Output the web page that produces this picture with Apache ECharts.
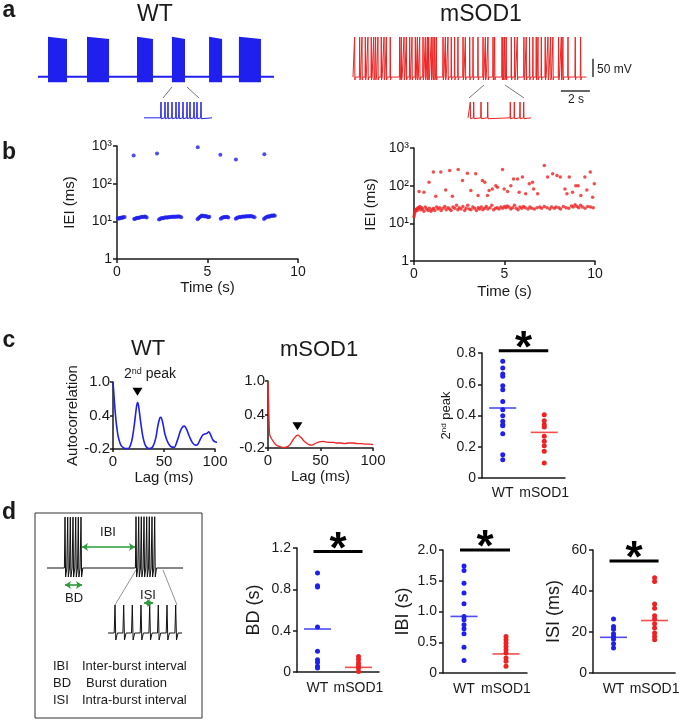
<!DOCTYPE html>
<html lang="en">
<head>
<meta charset="UTF-8">
<title>WT vs mSOD1 firing patterns</title>
<script src="https://cdn.jsdelivr.net/npm/echarts@6.0.0/dist/echarts.min.js"></script>
<style>
  html, body { margin: 0; padding: 0; background: #fff; }
  #main { width: 682px; height: 720px; }
</style>
</head>
<body>
<div id="main"></div>
<script>
// ---- data ----
// a: voltage traces (time in s)
var wtBursts = [[0.69, 2.0], [3.38, 4.9], [6.83, 7.93], [9.24, 10.14], [11.8, 12.7], [13.86, 15.38]];
var wtBurstTop = [48, 42];
var wtInsetSpikes = [17, 21, 24, 28, 32, 35, 39, 43, 46, 50, 53, 57];
var msSpikes = [0.11, 0.46, 0.62, 0.85, 1.03, 1.26, 1.43, 1.56, 1.72, 1.95, 2.14, 2.30, 2.57, 3.22, 3.33, 3.52,
  3.68, 3.91, 4.07, 4.30, 4.44, 4.60, 4.83, 4.99, 5.13, 5.22, 5.40, 5.52, 5.63, 5.75, 6.21, 6.37, 6.55, 6.78,
  7.01, 7.24, 7.59, 7.75, 8.05, 8.28, 8.62, 8.97, 9.13, 9.31, 9.66, 9.77, 10.28, 10.34, 10.46, 10.57, 10.92,
  11.15, 11.33, 11.79, 11.95, 12.18, 12.41, 12.64, 12.76, 12.99, 13.26, 13.45, 13.63, 13.79, 14.18, 14.37,
  14.48, 14.83, 15.33, 15.70];
var msInsetSpikes = [2.3, 5.7, 13, 19.7, 42.3, 46.3, 52, 55.7];

// b: inter-event intervals (time s, IEI ms)
var wtIEIburst = [
  [0.05, 12.0], [0.1, 11.8], [0.15, 12.2], [0.2, 12.5], [0.25, 12.3], [0.3, 12.8], [0.35, 12.6], [0.42, 13.0],
  [0.95, 11.5], [1.0, 11.8], [1.06, 12.0], [1.12, 12.4], [1.18, 12.2], [1.25, 12.7], [1.32, 12.9], [1.38, 13.2],
  [1.45, 13.0], [1.52, 13.5], [1.58, 13.3], [1.64, 12.6],
  [2.32, 11.2], [2.38, 11.6], [2.44, 12.0], [2.5, 12.3], [2.57, 12.1], [2.64, 12.6], [2.71, 12.8], [2.78, 12.5],
  [2.85, 13.0], [2.92, 12.8], [2.99, 13.2], [3.06, 13.0], [3.13, 13.4], [3.2, 13.1], [3.27, 13.5], [3.34, 13.3],
  [3.41, 13.6], [3.48, 13.2], [3.55, 12.9],
  [4.45, 11.3], [4.5, 12.0], [4.56, 12.8], [4.62, 13.5], [4.68, 14.2], [4.74, 13.8], [4.8, 14.0], [4.86, 13.4],
  [4.92, 13.9], [4.98, 13.2], [5.04, 12.9], [5.1, 13.3],
  [5.73, 11.8], [5.79, 12.2], [5.85, 12.6], [5.91, 13.0], [5.97, 12.8], [6.03, 13.3], [6.09, 13.1], [6.15, 12.7],
  [6.56, 11.8], [6.62, 12.3], [6.68, 12.7], [6.75, 13.0], [6.82, 12.8], [6.89, 13.3], [6.96, 13.5], [7.03, 13.2],
  [7.1, 13.6], [7.17, 13.4], [7.24, 13.8], [7.31, 13.5], [7.38, 13.9], [7.45, 13.6], [7.52, 13.2], [7.6, 12.8],
  [8.12, 11.5], [8.18, 12.2], [8.24, 12.8], [8.3, 13.2], [8.36, 13.6], [8.42, 13.3], [8.48, 13.8], [8.54, 14.2],
  [8.6, 13.9], [8.66, 14.4], [8.72, 14.0]
];
var wtIEIgap = [[0.92, 560], [2.21, 630], [4.46, 930], [5.71, 590], [6.57, 440], [8.14, 600]];
var msIEIshort = [
  [0.0, 15], [0.02, 17], [0.04, 19], [0.07, 21], [0.1, 23], [0.14, 24], [0.18, 22], [0.22, 26], [0.27, 25],
  [0.32, 28], [0.37, 23], [0.42, 26], [0.48, 24], [0.55, 21], [0.62, 27], [0.7, 24], [0.78, 22], [0.85, 25],
  [0.93, 21], [1.0, 23], [1.08, 25], [1.15, 22], [1.25, 27], [1.33, 24], [1.42, 26], [1.5, 22], [1.6, 25],
  [1.7, 28], [1.78, 23], [1.88, 26], [1.97, 24], [2.05, 22], [2.15, 27], [2.25, 25], [2.35, 30], [2.42, 23],
  [2.5, 26], [2.6, 24], [2.7, 28], [2.8, 22], [2.88, 25], [2.97, 30], [3.05, 24], [3.15, 23], [3.25, 27],
  [3.35, 25], [3.45, 22], [3.55, 26], [3.62, 24], [3.72, 27], [3.8, 23], [3.9, 25], [4.0, 28], [4.08, 24],
  [4.2, 26], [4.3, 30], [4.4, 23], [4.5, 25], [4.6, 26], [4.7, 24], [4.8, 27], [4.9, 25], [5.0, 28], [5.08, 26],
  [5.15, 29], [5.25, 27], [5.35, 24], [5.45, 26], [5.55, 30], [5.65, 25], [5.75, 23], [5.85, 27], [5.95, 25],
  [6.05, 28], [6.15, 26], [6.3, 24], [6.4, 27], [6.5, 25], [6.65, 24], [6.8, 26], [6.95, 27], [7.05, 25],
  [7.2, 28], [7.35, 26], [7.5, 24], [7.6, 27], [7.75, 25], [7.85, 27], [8.0, 26], [8.1, 24], [8.25, 28],
  [8.4, 26], [8.55, 25], [8.7, 29], [8.8, 27], [8.9, 31], [9.0, 28], [9.1, 26], [9.2, 30], [9.3, 27],
  [9.45, 25], [9.6, 28], [9.75, 27], [9.9, 26]
];
var msIEIlong = [
  [0.28, 70], [0.55, 67], [0.83, 124], [1.07, 230], [1.2, 52], [1.48, 230], [1.75, 77], [1.97, 253], [2.12, 52],
  [2.44, 270], [2.68, 138], [2.95, 215], [3.14, 74], [3.41, 207], [3.54, 55], [3.78, 138], [3.91, 124],
  [4.06, 55], [4.15, 74], [4.33, 82], [4.52, 100], [4.61, 91], [4.89, 270], [4.98, 82], [5.17, 70], [5.35, 100],
  [5.5, 150], [5.72, 150], [5.81, 67], [5.99, 170], [6.17, 61], [6.37, 112], [6.55, 124], [6.61, 82], [6.83, 61],
  [7.2, 345], [7.38, 170], [7.66, 207], [7.9, 187], [8.08, 170], [8.34, 82], [8.45, 61], [8.58, 170], [8.76, 67],
  [8.94, 100], [9.07, 100], [9.22, 55], [9.44, 170], [9.55, 77], [9.74, 230], [9.87, 49], [9.96, 112]
];

// c: autocorrelation (lag ms, r)
var wtAC = [[0, 1.0], [1, 0.75], [2, 0.5], [3, 0.3], [4, 0.15], [5, 0.03], [7, -0.1], [9, -0.16], [12, -0.19],
  [15, -0.19], [17, -0.14], [19, 0.0], [21, 0.25], [23, 0.55], [24, 0.63], [25, 0.58], [27, 0.3], [29, 0.05],
  [31, -0.1], [33, -0.17], [36, -0.19], [39, -0.16], [42, 0.0], [44, 0.22], [46, 0.36], [47, 0.37], [49, 0.25],
  [51, 0.06], [54, -0.09], [57, -0.16], [60, -0.17], [63, -0.05], [66, 0.12], [68, 0.19], [70, 0.21], [72, 0.16],
  [75, 0.02], [78, -0.09], [81, -0.13], [83, -0.12], [86, -0.01], [88, 0.05], [90, 0.07], [92, 0.08], [94, 0.11],
  [96, 0.04], [98, -0.04], [100, -0.07], [103, -0.08]];
var msAC = [[0, 1.0], [0.5, 0.65], [1, 0.3], [1.6, 0.04], [3, -0.02], [6, -0.11], [8, -0.15], [11, -0.17],
  [14, -0.19], [16, -0.19], [19, -0.17], [21, -0.14], [24, -0.05], [26, 0.0], [27, 0.02], [28, 0.03], [29, 0.03],
  [30, 0.01], [32, -0.02], [34, -0.07], [36.5, -0.11], [39, -0.14], [41, -0.15], [43, -0.14], [46, -0.11],
  [49, -0.09], [52, -0.08], [55, -0.09], [59, -0.1], [62, -0.1], [65, -0.11], [69, -0.11], [73, -0.12],
  [77, -0.11], [81, -0.11], [85, -0.12], [89, -0.12], [93, -0.13], [97, -0.13], [100, -0.14]];
var wtPeak2 = [24, 0.63];
var msPeak2 = [28, 0.03];

// group comparisons
var groups = ['WT', 'mSOD1'];
var peakWT = [0.747, 0.704, 0.666, 0.651, 0.591, 0.565, 0.49, 0.437, 0.399, 0.363, 0.341, 0.335, 0.284, 0.149, 0.117];
var peakMS = [0.405, 0.367, 0.341, 0.326, 0.267, 0.235, 0.207, 0.171, 0.096];
var peakMean = [0.448, 0.292];
var bdWT = [0.958, 0.835, 0.823, 0.435, 0.2, 0.119, 0.094, 0.055, 0.039];
var bdMS = [0.15, 0.12, 0.087, 0.061, 0.039, 0.006];
var bdMean = [0.416, 0.045];
var ibiWT = [1.74, 1.665, 1.46, 1.30, 1.124, 0.92, 0.865, 0.784, 0.72, 0.64, 0.42, 0.205];
var ibiMS = [0.595, 0.54, 0.486, 0.43, 0.378, 0.324, 0.243, 0.19, 0.108];
var ibiMean = [0.92, 0.31];
var isiWT = [26.3, 22.7, 21.4, 19.1, 17.8, 16.5, 14.3, 12.2];
var isiMS = [46.5, 44.6, 33.6, 31.6, 27.9, 26.3, 24, 21.9, 19.5, 17.8, 16.2];
var isiMean = [17.4, 25.6];

// d: schematic spike positions
var schBurst1 = [30, 32.7, 35.3, 38, 40.7, 43.3, 46];
var schBurst2 = [101, 103.7, 106.3, 109, 111.7, 114.3, 117, 119.7];
var schInset = [80, 88.7, 97.3, 106, 114.7, 123.3, 132, 140.7];

// ---- drawing ----
var FONT = '"Liberation Sans", Arial, Helvetica, sans-serif';
var BLUE = '#1f1fee', RED = '#ee2222', GREEN = '#2c9a3a', INK = '#1a1a1a';

function spikeTrain(spikes, t0, t1, base, peak, trough, w) {
  var pts = [[t0, base]];
  spikes.forEach(function (s) {
    pts.push([s - w, base], [s, peak], [s + w, trough], [s + 3 * w, base]);
  });
  pts.push([t1, base]);
  return pts;
}

function hiddenAxis(grid, min, max, inverse) {
  return { gridIndex: grid, type: 'value', min: min, max: max, inverse: !!inverse, show: false };
}

function valAxis(grid, o) {
  var ax = {
    gridIndex: grid, type: o.type || 'value', min: o.min, max: o.max,
    axisLine: { show: true, onZero: false, lineStyle: { color: INK, width: 1.5 } },
    axisTick: { show: true, length: o.tick || 4, lineStyle: { color: INK, width: 1.5 } },
    axisLabel: { color: INK, fontSize: o.fs || 14, fontFamily: FONT, margin: o.margin || 6 },
    splitLine: { show: false },
    name: o.name || '', nameLocation: 'middle', nameGap: o.gap || 20,
    nameTextStyle: { color: INK, fontSize: o.nfs || 15, fontFamily: FONT }
  };
  if (o.interval != null) ax.interval = o.interval;
  if (o.logBase) ax.logBase = o.logBase;
  if (o.fmt) ax.axisLabel.formatter = o.fmt;
  if (o.custom) { ax.axisLabel.customValues = o.custom; ax.axisTick.customValues = o.custom; }
  if (o.rich) ax.nameTextStyle.rich = o.rich;
  return ax;
}

function catAxis(grid, margin) {
  return {
    gridIndex: grid, type: 'category', data: groups,
    axisLine: { show: true, onZero: false, lineStyle: { color: INK, width: 1.5 } },
    axisTick: { show: false },
    axisLabel: { color: INK, fontSize: 14, fontFamily: FONT, margin: margin, interval: 0 },
    splitLine: { show: false }
  };
}

function fmt1(v) { return v === 0 ? '0' : v.toFixed(1); }
var sup = { 1: '1', 10: '10\u00b9', 100: '10\u00b2', 1000: '10\u00b3' };
function fmtLog(v) { return sup[Math.round(v)] || ''; }

function column(ax, vals, idx, color) {
  return {
    type: 'scatter', xAxisIndex: ax, yAxisIndex: ax, symbolSize: 5, silent: true,
    itemStyle: { color: color, opacity: 1 },
    data: vals.map(function (v) { return [idx, v]; })
  };
}
function means(ax, vals) {
  return {
    type: 'scatter', xAxisIndex: ax, yAxisIndex: ax, symbol: 'rect', symbolSize: [27, 1.6], silent: true,
    data: vals.map(function (v, i) { return { value: [i, v], itemStyle: { color: i ? RED : BLUE } }; })
  };
}
function sigBar(ax, y) {
  return {
    type: 'custom', xAxisIndex: ax, yAxisIndex: ax, data: [[0, y]], clip: false, silent: true, z: 5,
    renderItem: function (params, api) {
      var a = api.coord([0, api.value(1)]), b = api.coord([1, api.value(1)]);
      return { type: 'group', children: [
        { type: 'line', shape: { x1: a[0] - 4, y1: a[1], x2: b[0] + 4, y2: b[1] },
          style: { stroke: '#000', lineWidth: 3 } },
        { type: 'text', x: (a[0] + b[0]) / 2, y: a[1] - 1,
          style: { text: '*', font: 'bold 44px ' + FONT, fill: '#000',
                   textAlign: 'center', textVerticalAlign: 'middle', align: 'center', verticalAlign: 'middle' } }
      ] };
    }
  };
}

function txt(x, y, s, size, opt) {
  opt = opt || {};
  return {
    type: 'text', x: x, y: y, silent: true,
    style: {
      text: s, fill: INK, font: (opt.bold ? 'bold ' : '') + size + 'px ' + FONT,
      textAlign: opt.align || 'center', align: opt.align || 'center',
      textVerticalAlign: 'middle', verticalAlign: 'middle', rich: opt.rich
    }
  };
}
function seg(x1, y1, x2, y2) {
  return { type: 'line', silent: true, shape: { x1: x1, y1: y1, x2: x2, y2: y2 },
           style: { stroke: '#777', lineWidth: 1 } };
}

var grids = [
  { left: 38, top: 36, width: 236, height: 47 },    // 0 WT trace
  { left: 144, top: 102, width: 68, height: 18 },   // 1 WT inset
  { left: 353, top: 37, width: 245, height: 63 },   // 2 mSOD1 trace + scale bars
  { left: 468, top: 102, width: 63, height: 18 },   // 3 mSOD1 inset
  { left: 117, top: 146, width: 181, height: 113 }, // 4 WT IEI
  { left: 414, top: 148, width: 181, height: 113 }, // 5 mSOD1 IEI
  { left: 113, top: 382, width: 102, height: 67 },  // 6 WT autocorr
  { left: 268, top: 381, width: 105, height: 67 },  // 7 mSOD1 autocorr
  { left: 482, top: 353, width: 83, height: 125 },  // 8 2nd peak
  { left: 35, top: 513, width: 167, height: 205, show: true, borderColor: '#333', borderWidth: 1 }, // 9 schematic
  { left: 297, top: 548, width: 82, height: 124 },  // 10 BD
  { left: 443, top: 550, width: 84, height: 123 },  // 11 IBI
  { left: 593, top: 550, width: 84, height: 123 }   // 12 ISI
];

var xAxes = [
  hiddenAxis(0, 0, 16.28), hiddenAxis(1, 0, 68), hiddenAxis(2, 0, 16.9), hiddenAxis(3, 0, 63),
  valAxis(4, { min: 0, max: 10, interval: 5, name: 'Time (s)', gap: 19, margin: 6 }),
  valAxis(5, { min: 0, max: 10, interval: 5, name: 'Time (s)', gap: 23, margin: 6 }),
  valAxis(6, { min: 0, max: 100, custom: [0, 50, 100], name: 'Lag (ms)', gap: 19, margin: 5, fs: 15, tick: 3 }),
  valAxis(7, { min: 0, max: 100, custom: [0, 50, 100], name: 'Lag (ms)', gap: 19, margin: 5, fs: 15, tick: 3 }),
  catAxis(8, 8),
  hiddenAxis(9, 0, 167),
  catAxis(10, 9), catAxis(11, 9), catAxis(12, 9)
];
var yAxes = [
  hiddenAxis(0, -77, 50), hiddenAxis(1, -75, 50), hiddenAxis(2, -123, 50), hiddenAxis(3, -75, 50),
  valAxis(4, { type: 'log', logBase: 10, min: 1, max: 1000, fmt: fmtLog, name: 'IEI (ms)', gap: 40, margin: 5 }),
  valAxis(5, { type: 'log', logBase: 10, min: 1, max: 1000, fmt: fmtLog, name: 'IEI (ms)', gap: 36, margin: 5 }),
  valAxis(6, { min: -0.2, max: 1.0, custom: [-0.2, 0.4, 1.0], fmt: fmt1, name: 'Autocorrelation', gap: 33,
               margin: 3, fs: 15, tick: 3 }),
  valAxis(7, { min: -0.2, max: 1.0, custom: [-0.2, 0.4, 1.0], fmt: fmt1, margin: 3, fs: 15, tick: 3 }),
  valAxis(8, { min: 0, max: 0.8, interval: 0.2, fmt: fmt1, name: '2{s|nd} peak', gap: 27, nfs: 13,
               rich: { s: { fontSize: 8, fontFamily: FONT, color: INK, verticalAlign: 'top' } } }),
  hiddenAxis(9, 0, 205, true),
  valAxis(10, { min: 0, max: 1.2, interval: 0.4, fmt: fmt1, name: 'BD (s)', gap: 34, nfs: 18 }),
  valAxis(11, { min: 0, max: 2, interval: 0.5, fmt: fmt1, name: 'IBI (s)', gap: 31, nfs: 18 }),
  valAxis(12, { min: 0, max: 60, interval: 20, name: 'ISI (ms)', gap: 30, nfs: 18 })
];

var schTrace = spikeTrain(schBurst1, 12, 60, 55, 4, 64, 0.6)
  .concat(spikeTrain(schBurst2, 60, 148, 55, 3.7, 64, 0.6));
var schInsetTrace = spikeTrain(schInset, 73, 147, 120, 92, 127, 0.8);

var series = [
  // a
  { type: 'line', xAxisIndex: 0, yAxisIndex: 0, showSymbol: false, silent: true,
    lineStyle: { color: BLUE, width: 2 }, data: [[0, -60], [16.28, -60]] },
  { type: 'custom', xAxisIndex: 0, yAxisIndex: 0, silent: true, data: wtBursts,
    renderItem: function (params, api) {
      var s = api.value(0), e = api.value(1);
      return { type: 'polygon', shape: { points: [
        api.coord([s, -75]), api.coord([s, wtBurstTop[0]]), api.coord([e, wtBurstTop[1]]), api.coord([e, -75])
      ] }, style: { fill: BLUE } };
    } },
  { type: 'line', xAxisIndex: 1, yAxisIndex: 1, showSymbol: false, silent: true,
    lineStyle: { color: BLUE, width: 1 }, data: spikeTrain(wtInsetSpikes, 0, 68, -60, 50, -66, 0.3) },
  { type: 'line', xAxisIndex: 2, yAxisIndex: 2, showSymbol: false, silent: true,
    lineStyle: { color: RED, width: 1 }, data: spikeTrain(msSpikes, 0, 16.1, -60, 50, -68, 0.02),
    markLine: { silent: true, symbol: 'none', animation: false, label: { show: false },
      lineStyle: { color: '#333', width: 1.5, type: 'solid' },
      data: [[{ coord: [16.55, -60] }, { coord: [16.55, -10] }],
             [{ coord: [14.34, -98] }, { coord: [16.34, -98] }]] } },
  { type: 'line', xAxisIndex: 3, yAxisIndex: 3, showSymbol: false, silent: true,
    lineStyle: { color: RED, width: 1 }, data: spikeTrain(msInsetSpikes, 0, 63, -60, 50, -66, 0.3) },
  // b
  { type: 'scatter', xAxisIndex: 4, yAxisIndex: 4, symbolSize: 4, silent: true, itemStyle: { color: BLUE }, data: wtIEIburst },
  { type: 'scatter', xAxisIndex: 4, yAxisIndex: 4, symbolSize: 4, silent: true, itemStyle: { color: BLUE }, data: wtIEIgap },
  { type: 'scatter', xAxisIndex: 5, yAxisIndex: 5, symbolSize: 3.5, silent: true, itemStyle: { color: RED }, data: msIEIshort },
  { type: 'scatter', xAxisIndex: 5, yAxisIndex: 5, symbolSize: 3.5, silent: true, itemStyle: { color: RED }, data: msIEIlong },
  // c
  { type: 'line', xAxisIndex: 6, yAxisIndex: 6, showSymbol: false, smooth: 0.3, silent: true,
    lineStyle: { color: BLUE, width: 1.6 }, data: wtAC,
    markPoint: { symbol: 'triangle', symbolRotate: 180, symbolSize: [10, 8], symbolOffset: [0, -11],
      silent: true, label: { show: false }, itemStyle: { color: '#000' }, data: [{ coord: wtPeak2 }] } },
  { type: 'line', xAxisIndex: 7, yAxisIndex: 7, showSymbol: false, smooth: 0.3, silent: true,
    lineStyle: { color: RED, width: 1.3 }, data: msAC,
    markPoint: { symbol: 'triangle', symbolRotate: 180, symbolSize: [10, 8], symbolOffset: [0, -9],
      silent: true, label: { show: false }, itemStyle: { color: '#000' }, data: [{ coord: msPeak2 }] } },
  column(8, peakWT, 0, BLUE), column(8, peakMS, 1, RED), means(8, peakMean), sigBar(8, 0.815),
  // d schematic
  { type: 'line', xAxisIndex: 9, yAxisIndex: 9, showSymbol: false, silent: true,
    lineStyle: { color: '#111', width: 1 }, data: schTrace,
    markLine: { silent: true, animation: false, symbol: ['arrow', 'arrow'], symbolSize: [6, 6],
      label: { show: false }, lineStyle: { color: GREEN, width: 1.6, type: 'solid' }, itemStyle: { color: GREEN },
      data: [[{ coord: [47, 34] }, { coord: [100, 34] }],
             [{ coord: [30, 72] }, { coord: [47, 72] }],
             [{ coord: [109, 90] }, { coord: [118, 90] }]] } },
  { type: 'line', xAxisIndex: 9, yAxisIndex: 9, showSymbol: false, silent: true,
    lineStyle: { color: '#111', width: 1 }, data: schInsetTrace,
    markLine: { silent: true, animation: false, symbol: 'none', label: { show: false },
      lineStyle: { color: '#777', width: 0.8, type: 'solid' },
      data: [[{ coord: [101, 57] }, { coord: [80, 92] }],
             [{ coord: [128, 57] }, { coord: [142, 92] }]] } },
  column(10, bdWT, 0, BLUE), column(10, bdMS, 1, RED), means(10, bdMean), sigBar(10, 1.167),
  column(11, ibiWT, 0, BLUE), column(11, ibiMS, 1, RED), means(11, ibiMean), sigBar(11, 2.0),
  column(12, isiWT, 0, BLUE), column(12, isiMS, 1, RED), means(12, isiMean), sigBar(12, 54.6)
];

var graphics = [
  txt(9, 11, 'a', 23, { bold: true }), txt(9, 153, 'b', 23, { bold: true }),
  txt(9, 341, 'c', 23, { bold: true }), txt(9, 513, 'd', 23, { bold: true }),
  txt(155, 15, 'WT', 23), txt(481, 15, 'mSOD1', 23),
  txt(148, 349, 'WT', 22), txt(319, 350, 'mSOD1', 22),
  txt(150, 374, '2{s|nd} peak', 14, { rich: { s: { fontSize: 9, fontFamily: FONT, fill: INK, verticalAlign: 'top' } } }),
  txt(597, 70, '50 mV', 12, { align: 'left' }), txt(576, 100, '2 s', 12),
  seg(172, 87, 163, 98), seg(187, 87, 199, 98), seg(484, 85, 469, 98), seg(505, 85, 524, 98),
  txt(108, 532, 'IBI', 13), txt(74, 598, 'BD', 13), txt(148, 595, 'ISI', 13),
  txt(53, 666, 'IBI', 13, { align: 'left' }), txt(82, 666, 'Inter-burst interval', 13, { align: 'left' }),
  txt(53, 683, 'BD', 13, { align: 'left' }), txt(86, 683, 'Burst duration', 13, { align: 'left' }),
  txt(53, 700, 'ISI', 13, { align: 'left' }), txt(82, 700, 'Intra-burst interval', 13, { align: 'left' })
];

var chart = echarts.init(document.getElementById('main'), null, { renderer: 'canvas' });
chart.setOption({
  animation: false,
  backgroundColor: '#fff',
  textStyle: { fontFamily: FONT },
  grid: grids,
  xAxis: xAxes,
  yAxis: yAxes,
  series: series,
  graphic: graphics
});
</script>
</body>
</html>
